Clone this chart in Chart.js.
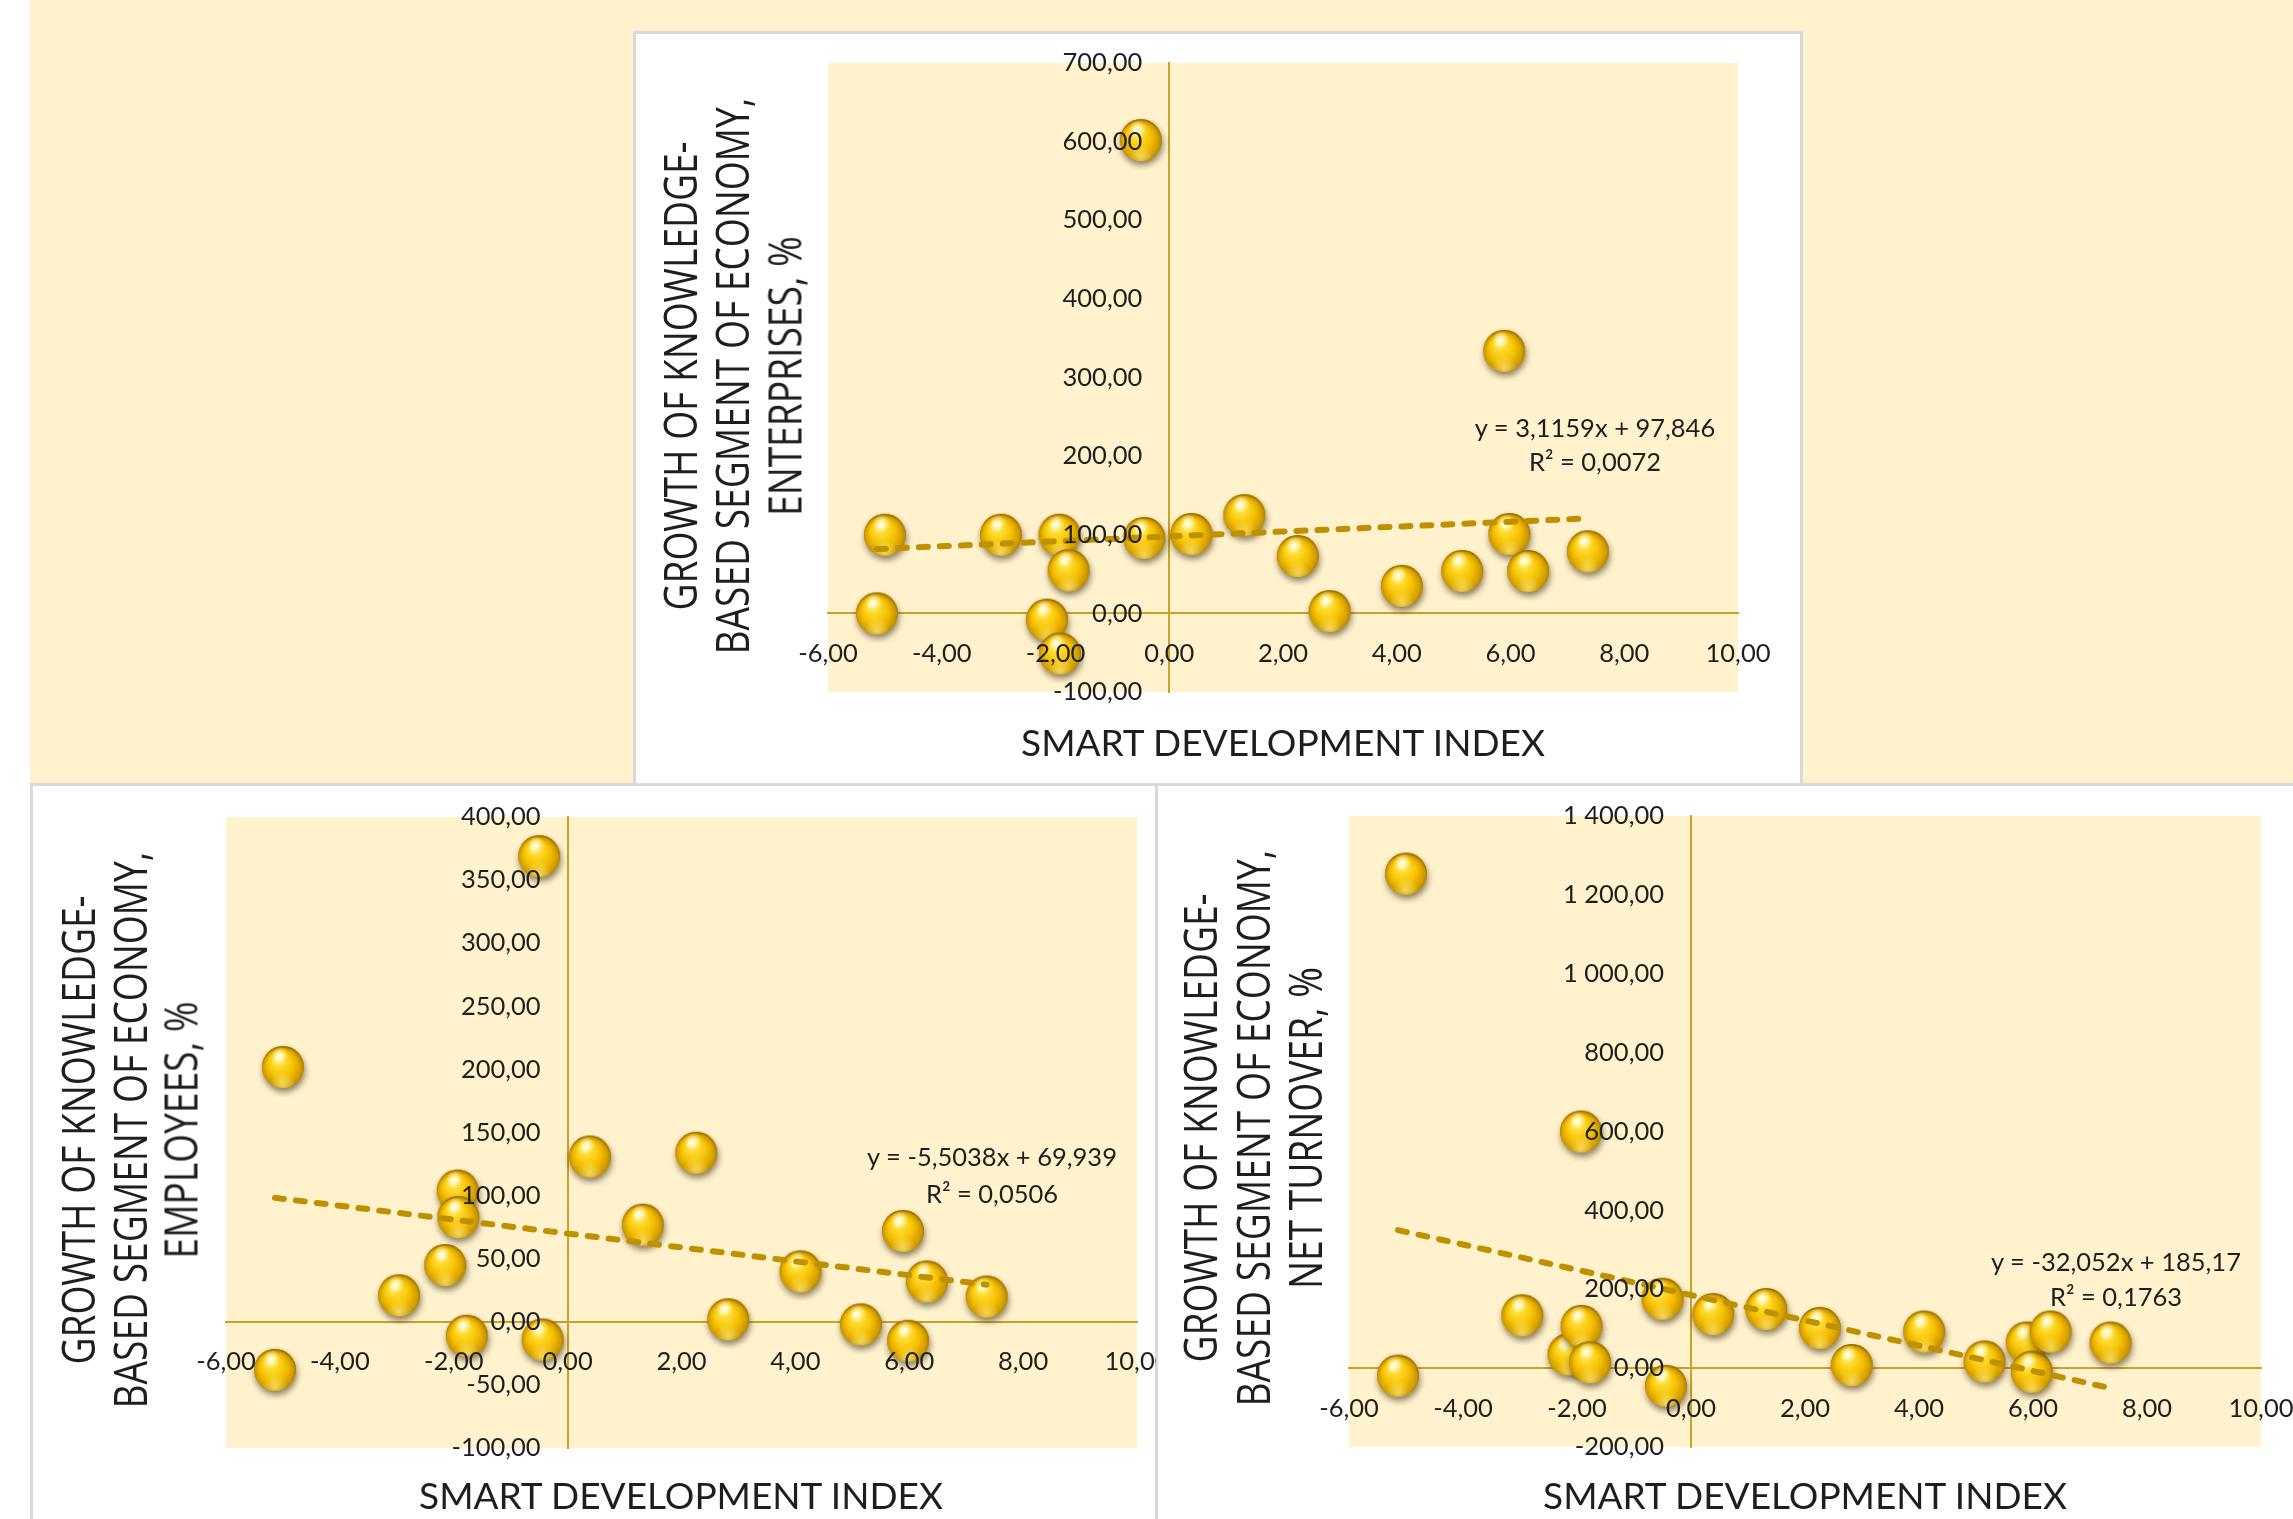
<!DOCTYPE html>
<html>
<head>
<meta charset="utf-8">
<title>Smart development index vs knowledge-based economy growth</title>
<script src="https://cdn.jsdelivr.net/npm/chart.js@4.4.0/dist/chart.umd.min.js"></script>
<style>
  html, body { margin: 0; padding: 0; }
  body { width: 2293px; height: 1519px; position: relative; overflow: hidden; background: #fff; }
  .band { position: absolute; left: 30px; top: 0; width: 2263px; height: 784px; background: #FFF2CC; }
  .panel { position: absolute; box-sizing: border-box; border: 3px solid #D9D9D9; background: #fff; }
  .clip { position: absolute; overflow: hidden; }
  .ytl { position: absolute; white-space: nowrap; font-family: "Open Sans", sans-serif; font-size: 45px;
         color: #1e1e1e; line-height: 1; transform-origin: 50% 50%; }
  .xt { position: absolute; white-space: nowrap; font-family: Lato, sans-serif; font-size: 37px;
        color: #1e1e1e; transform: translate(-50%, -50%); line-height: 1; }
  .eq { position: absolute; white-space: nowrap; font-family: Lato, sans-serif; font-size: 25.5px;
        color: #1e1e1e; transform: translate(-50%, -50%); line-height: 1; }
</style>
</head>
<body>
<div class="band"></div>
<div class="panel" style="left:633px; top:31px; width:1170px; height:755px;"></div>
<div class="panel" style="left:30px; top:783px; width:1128px; height:760px;"></div>
<div class="panel" style="left:1155px; top:783px; width:1160px; height:760px;"></div>

<div class="clip" style="left:634px; top:32px; width:1168px; height:752px;"><canvas id="c0" width="1168" height="752"></canvas></div>
<div class="clip" style="left:31px; top:784px; width:1125px; height:735px;"><canvas id="c1" width="1125" height="735"></canvas></div>
<div class="clip" style="left:1157px; top:784px; width:1136px; height:735px;"><canvas id="c2" width="1136" height="735"></canvas></div>

<script>
// x values: smart development index (same regions in all three charts)
const smartIndex = [-5.14, -5.00, -2.96, -2.15, -1.93, -1.92, -1.77, -0.50, -0.44, 0.39, 1.32, 2.26, 2.82, 4.09, 5.15, 5.89, 5.98, 6.31, 7.36];

// y values, growth of knowledge-based segment of economy, %
const enterprisesGrowth = [0, 100, 100, -8, 100, -51, 55, 602, 96, 101, 125, 73, 3, 35, 54, 334, 101, 54, 79];
const employeesGrowth = [-38, 202, 21, 45, 104, 83, -11, 369, -14, 131, 77, 134, 2, 40, -2, 72, -15, 32, 20];
const turnoverGrowth = [-19, 1254, 134, 35, 600, 107, 15, 176, -45, 137, 150, 102, 8, 93, 17, 65, -9, 93, 65];

// linear trend lines shown on the charts
const trendSlopes = [3.1159, -5.5038, -32.052];
const trendIntercepts = [97.846, 69.939, 185.17];
const trendR2 = [0.0072, 0.0506, 0.1763];

// axis ranges [min, max, step]
const xRange = [-6, 10, 2];
const yRanges = [[-100, 700, 100], [-100, 400, 50], [-200, 1400, 200]];

const xTitle = 'SMART DEVELOPMENT INDEX';
const yTitles = [
  ['GROWTH OF KNOWLEDGE-', 'BASED SEGMENT OF ECONOMY,', 'ENTERPRISES, %'],
  ['GROWTH OF KNOWLEDGE-', 'BASED SEGMENT OF ECONOMY,', 'EMPLOYEES, %'],
  ['GROWTH OF KNOWLEDGE-', 'BASED SEGMENT OF ECONOMY,', 'NET TURNOVER, %']
];
const seriesList = [enterprisesGrowth, employeesGrowth, turnoverGrowth];

// page layout (pixels)
const canvasOrigin = [[634, 32], [31, 784], [1157, 784]];
const plotBoxes = [[828, 63, 1738, 692], [226, 817, 1137, 1448], [1349, 816, 2261, 1447]];
const yTitleX = [[679, 731, 784], [77, 129, 180], [1199, 1252, 1304]];
const yTitleY = [376, 1130, 1128];
const xTitlePos = [[1283, 741], [681, 1494], [1805, 1494]];
const eqPos = [[1595, 428, 462], [992, 1157, 1194], [2116, 1262, 1297]];
const yLabelGap = 27;

const AXIS = '#C9A227';
const TREND = '#BF9000';
const TEXT = '#1e1e1e';

function fmt(v) {
  const parts = Math.abs(v).toFixed(2).split('.');
  const whole = parts[0].replace(/\B(?=(\d{3})+(?!\d))/g, ' ');
  return (v < -1e-9 ? '-' : '') + whole + ',' + parts[1];
}
function dec(v) {
  return String(v).replace('.', ',');
}

function makeBall(r) {
  const size = Math.ceil(r * 2 + 18);
  const c = document.createElement('canvas');
  c.width = size; c.height = size;
  const g = c.getContext('2d');
  const cx = size / 2, cy = size / 2;
  g.save();
  g.shadowColor = 'rgba(60, 50, 30, 0.6)';
  g.shadowBlur = 6;
  g.shadowOffsetX = 1;
  g.shadowOffsetY = 4;
  g.beginPath(); g.arc(cx, cy, r, 0, Math.PI * 2);
  g.fillStyle = '#C99700'; g.fill();
  g.restore();

  let grad = g.createRadialGradient(cx - r * 0.25, cy - r * 0.45, r * 0.1, cx, cy + r * 0.1, r * 1.05);
  grad.addColorStop(0, '#FFF5A0');
  grad.addColorStop(0.2, '#FFDD33');
  grad.addColorStop(0.55, '#F5C000');
  grad.addColorStop(0.85, '#D09A00');
  grad.addColorStop(1, '#9A7000');
  g.beginPath(); g.arc(cx, cy, r, 0, Math.PI * 2); g.fillStyle = grad; g.fill();

  grad = g.createRadialGradient(cx, cy + r * 0.8, 0, cx, cy + r * 0.8, r * 0.6);
  grad.addColorStop(0, 'rgba(255, 232, 120, 0.75)');
  grad.addColorStop(1, 'rgba(255, 232, 120, 0)');
  g.beginPath(); g.arc(cx, cy, r, 0, Math.PI * 2); g.fillStyle = grad; g.fill();

  grad = g.createRadialGradient(cx - r * 0.15, cy - r * 0.55, 0, cx - r * 0.15, cy - r * 0.55, r * 0.4);
  grad.addColorStop(0, 'rgba(255, 255, 235, 0.95)');
  grad.addColorStop(1, 'rgba(255, 255, 235, 0)');
  g.beginPath(); g.arc(cx, cy, r, 0, Math.PI * 2); g.fillStyle = grad; g.fill();
  return c;
}
const ball = makeBall(21);

const plotBackground = {
  id: 'plotBackground',
  beforeDraw(chart) {
    const a = chart.chartArea;
    const ctx = chart.ctx;
    ctx.save();
    ctx.fillStyle = '#FFF2CC';
    ctx.fillRect(a.left, a.top, a.right - a.left, a.bottom - a.top);
    ctx.restore();
  }
};

const tickFont = { family: 'Lato', size: 25.5 };

// axes sit inside the plot, so their labels must not shrink the plot area
function noPadding(scale) {
  scale.paddingLeft = 0;
  scale.paddingRight = 0;
  scale.paddingTop = 0;
  scale.paddingBottom = 0;
}

function makeChart(i) {
  const ys = seriesList[i];
  const points = smartIndex.map((x, k) => ({ x: x, y: ys[k] }));
  const xMin = Math.min(...smartIndex), xMax = Math.max(...smartIndex);
  const trend = [xMin, xMax].map(x => ({ x: x, y: trendSlopes[i] * x + trendIntercepts[i] }));
  const [yMin, yMax, yStep] = yRanges[i];
  const [ox, oy] = canvasOrigin[i];
  const [pl, pt, pr, pb] = plotBoxes[i];
  const canvas = document.getElementById('c' + i);
  // y tick labels sit a little left of the x = 0 axis line
  const gapUnits = yLabelGap * (xRange[1] - xRange[0]) / (pr - pl);

  const lineAxis = (min, max, step, pos) => ({
    type: 'linear', min: min, max: max, position: pos,
    grid: { display: false, drawTicks: false },
    border: { display: true, color: AXIS, width: 2 },
    ticks: { display: false, stepSize: step },
    afterFit: noPadding
  });
  const labelAxis = (axis, min, max, step, pos, pad) => ({
    type: 'linear', axis: axis, min: min, max: max, position: pos,
    grid: { display: false, drawTicks: false },
    border: { display: false },
    ticks: { z: 1, stepSize: step, padding: pad, color: TEXT, font: tickFont,
             maxRotation: 0, minRotation: 0, autoSkip: false, callback: v => fmt(v) },
    afterFit: noPadding
  });

  new Chart(canvas, {
    type: 'scatter',
    data: {
      datasets: [
        { data: trend, showLine: true, borderColor: TREND, borderWidth: 6, borderDash: [9, 12],
          borderCapStyle: 'round', pointRadius: 0, pointHoverRadius: 0 },
        { data: points, pointStyle: ball, pointRadius: 21, pointHoverRadius: 21 }
      ]
    },
    options: {
      responsive: false,
      animation: false,
      devicePixelRatio: 1,
      events: [],
      layout: {
        autoPadding: false,
        padding: { left: pl - ox, top: pt - oy, right: ox + canvas.width - pr, bottom: oy + canvas.height - pb }
      },
      plugins: { legend: { display: false }, tooltip: { enabled: false } },
      scales: {
        x: lineAxis(xRange[0], xRange[1], xRange[2], { y: 0 }),
        y: lineAxis(yMin, yMax, yStep, { x: 0 }),
        xl: labelAxis('x', xRange[0], xRange[1], xRange[2], { y: 0 }, 25),
        yl: labelAxis('y', yMin, yMax, yStep, { x: -gapUnits }, 0)
      }
    },
    plugins: [plotBackground]
  });

  // axis titles and trend label as page text
  const lines = [];
  yTitles[i].forEach((t, k) => {
    const d = document.createElement('div');
    d.className = 'ytl';
    d.textContent = t;
    d.style.left = yTitleX[i][k] + 'px';
    d.style.top = yTitleY[i] + 'px';
    document.body.appendChild(d);
    lines.push(d);
  });
  const squeeze = 469 / lines[0].offsetWidth;
  lines.forEach(d => {
    d.style.transform = 'translate(-50%, -50%) rotate(-90deg) scaleX(' + squeeze.toFixed(3) + ')';
  });

  const xt = document.createElement('div');
  xt.className = 'xt';
  xt.textContent = xTitle;
  xt.style.left = xTitlePos[i][0] + 'px';
  xt.style.top = xTitlePos[i][1] + 'px';
  document.body.appendChild(xt);

  const eq1 = document.createElement('div');
  eq1.className = 'eq';
  eq1.textContent = 'y = ' + dec(trendSlopes[i]) + 'x + ' + dec(trendIntercepts[i]);
  eq1.style.left = eqPos[i][0] + 'px';
  eq1.style.top = eqPos[i][1] + 'px';
  document.body.appendChild(eq1);

  const eq2 = document.createElement('div');
  eq2.className = 'eq';
  eq2.textContent = 'R² = ' + dec(trendR2[i]);
  eq2.style.left = eqPos[i][0] + 'px';
  eq2.style.top = eqPos[i][2] + 'px';
  document.body.appendChild(eq2);
}

[0, 1, 2].forEach(makeChart);
</script>
</body>
</html>
